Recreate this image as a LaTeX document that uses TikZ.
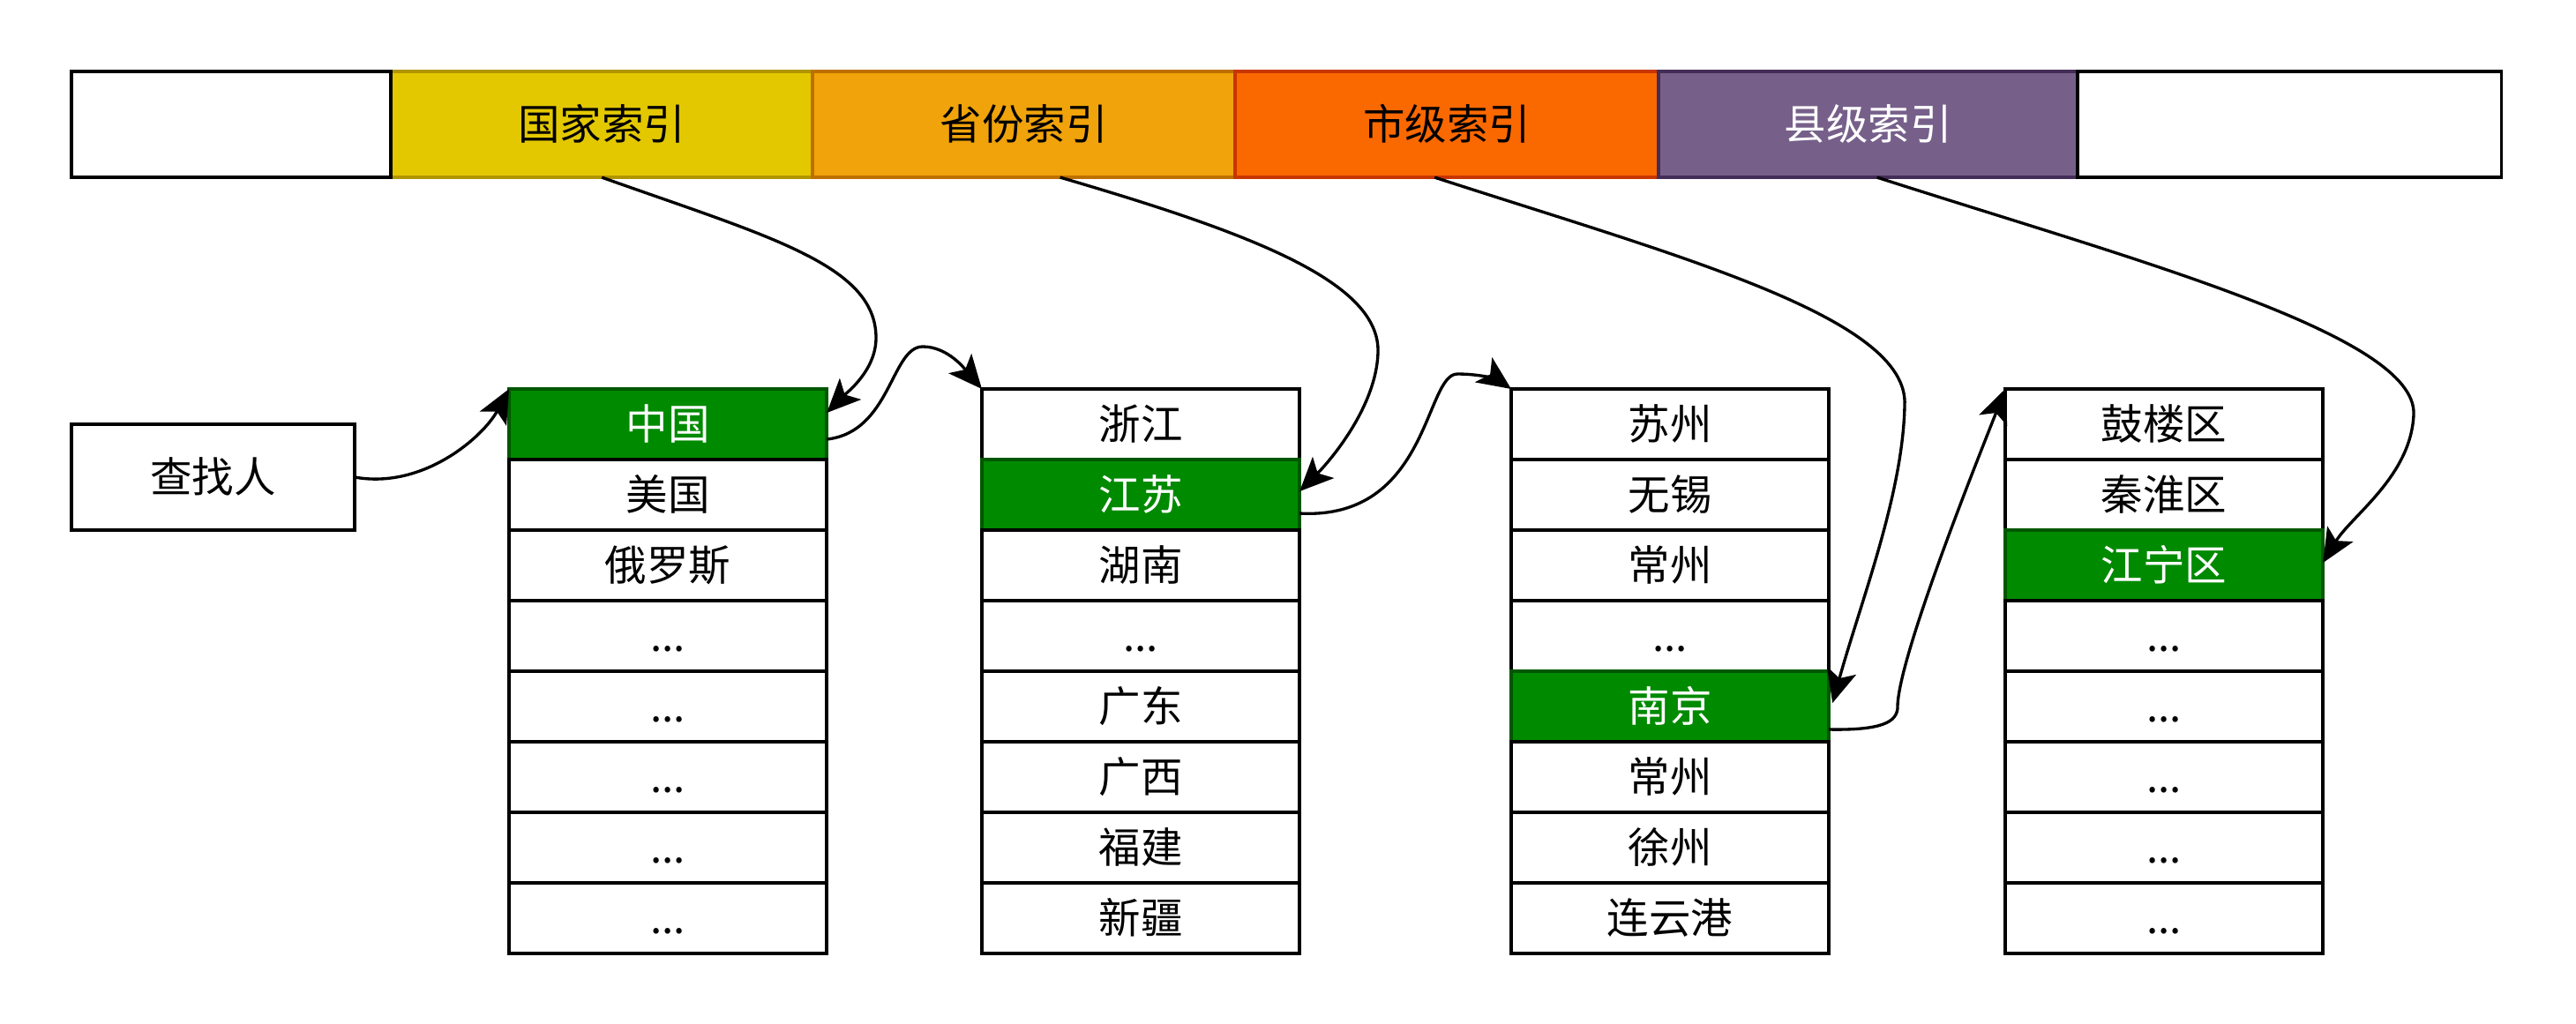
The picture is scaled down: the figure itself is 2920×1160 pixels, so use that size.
\documentclass[tikz,border=0pt]{standalone}
\usepackage{fontspec}
\newfontfamily\cjk{Noto Sans CJK SC}
\usetikzlibrary{arrows.meta,calc}
\definecolor{idxyellow}{HTML}{E3C800}
\definecolor{idxyellowline}{HTML}{B09500}
\definecolor{idxamber}{HTML}{F0A30A}
\definecolor{idxamberline}{HTML}{BD7000}
\definecolor{idxorange}{HTML}{FA6800}
\definecolor{idxorangeline}{HTML}{C73500}
\definecolor{idxviolet}{HTML}{76608A}
\definecolor{idxvioletline}{HTML}{432D57}
\definecolor{hitgreen}{HTML}{008A00}
\definecolor{hitgreenline}{HTML}{005700}

\begin{document}
\begin{tikzpicture}[x=0.01cm, y=-0.01cm,
  lbl/.style={font=\cjk\fontsize{13.5}{16}\selectfont,
    text height=0.39cm, text depth=0.04cm},
  barcell/.style={lbl, draw=black, line width=1pt, anchor=north west,
    inner sep=0pt, outer sep=0pt, minimum height=1.2cm},
  cell/.style={lbl, draw=black, fill=white, line width=1pt,
    minimum width=3.6cm, minimum height=0.8cm,
    inner sep=0pt, outer sep=0pt, anchor=north west},
  hit/.style={cell, fill=hitgreen, draw=hitgreenline, text=white},
  link/.style={line width=0.95pt,
    -{Stealth[length=0.38cm, width=0.34cm, inset=0.09cm]}}
]
\useasboundingbox (0,0) rectangle (2920,1160);

% index bar
\node[barcell, fill=idxyellow, draw=idxyellowline, minimum width=4.78cm] (ixcountry) at (443,81) {国家索引};
\node[barcell, fill=idxamber, draw=idxamberline, minimum width=4.79cm] (ixprov) at (921,81) {省份索引};
\node[barcell, fill=idxorange, draw=idxorangeline, minimum width=4.80cm] (ixcity) at (1400,81) {市级索引};
\node[barcell, fill=idxviolet, draw=idxvioletline, text=white, minimum width=4.75cm] (ixcounty) at (1880,81) {县级索引};
\node[barcell, fill=white, minimum width=3.62cm] (barhead) at (81,81) {};
\node[barcell, fill=white, minimum width=4.80cm] (bartail) at (2355,81) {};

% who is searched
\node[cell, minimum width=3.21cm, minimum height=1.2cm] (seeker) at (81,481) {查找人};

% countries
\node[hit]  (c1r1) at (577,441) {中国};
\node[cell] (c1r2) at (577,521) {美国};
\node[cell] (c1r3) at (577,601) {俄罗斯};
\node[cell] (c1r4) at (577,681) {...};
\node[cell] (c1r5) at (577,761) {...};
\node[cell] (c1r6) at (577,841) {...};
\node[cell] (c1r7) at (577,921) {...};
\node[cell] (c1r8) at (577,1001) {...};

% provinces
\node[cell] (c2r1) at (1113,441) {浙江};
\node[hit]  (c2r2) at (1113,521) {江苏};
\node[cell] (c2r3) at (1113,601) {湖南};
\node[cell] (c2r4) at (1113,681) {...};
\node[cell] (c2r5) at (1113,761) {广东};
\node[cell] (c2r6) at (1113,841) {广西};
\node[cell] (c2r7) at (1113,921) {福建};
\node[cell] (c2r8) at (1113,1001) {新疆};

% cities
\node[cell] (c3r1) at (1713,441) {苏州};
\node[cell] (c3r2) at (1713,521) {无锡};
\node[cell] (c3r3) at (1713,601) {常州};
\node[cell] (c3r4) at (1713,681) {...};
\node[hit]  (c3r5) at (1713,761) {南京};
\node[cell] (c3r6) at (1713,841) {常州};
\node[cell] (c3r7) at (1713,921) {徐州};
\node[cell] (c3r8) at (1713,1001) {连云港};

% counties
\node[cell] (c4r1) at (2273,441) {鼓楼区};
\node[cell] (c4r2) at (2273,521) {秦淮区};
\node[hit]  (c4r3) at (2273,601) {江宁区};
\node[cell] (c4r4) at (2273,681) {...};
\node[cell] (c4r5) at (2273,761) {...};
\node[cell] (c4r6) at (2273,841) {...};
\node[cell] (c4r7) at (2273,921) {...};
\node[cell] (c4r8) at (2273,1001) {...};

% lookup chain
\draw[link] (seeker.east) .. controls (480,555) and (548,495) .. (c1r1.north west);
\draw[link] (ixcountry.south) .. controls (870,268) and (993,300) .. (993,383)
  .. controls (993,420) and (960,445) .. ($(c1r1.east)+(0,-13)$);
\draw[link] ($(c1r1.east)+(0,17)$) .. controls (1010,490) and (1010,393) .. (1046,393)
  .. controls (1075,393) and (1095,420) .. (c2r1.north west);
\draw[link] ($(ixprov.south)+(41,0)$) .. controls (1420,265) and (1565,320) .. (1562,400)
  .. controls (1560,460) and (1510,520) .. ($(c2r2.east)+(0,-4)$);
\draw[link] ($(c2r2.east)+(0,21)$) .. controls (1620,590) and (1615,424) .. (1652,424)
  .. controls (1682,424) and (1700,432) .. (c3r1.north west);
\draw[link] ($(ixcity.south)+(-14,0)$) .. controls (1900,290) and (2165,360) .. (2159,460)
  .. controls (2157,560) and (2110,680) .. ($(c3r5.east)+(4,-4)$);
\draw[link] ($(c3r5.east)+(0,26)$) .. controls (2130,828) and (2152,820) .. (2151,800)
  .. controls (2153,740) and (2249,503) .. (c4r1.north west);
\draw[link] ($(ixcounty.south)+(10,0)$) .. controls (2420,295) and (2740,380) .. (2736,470)
  .. controls (2733,540) and (2665,585) .. ($(c4r3.east)+(0,-3)$);
\end{tikzpicture}
\end{document}
